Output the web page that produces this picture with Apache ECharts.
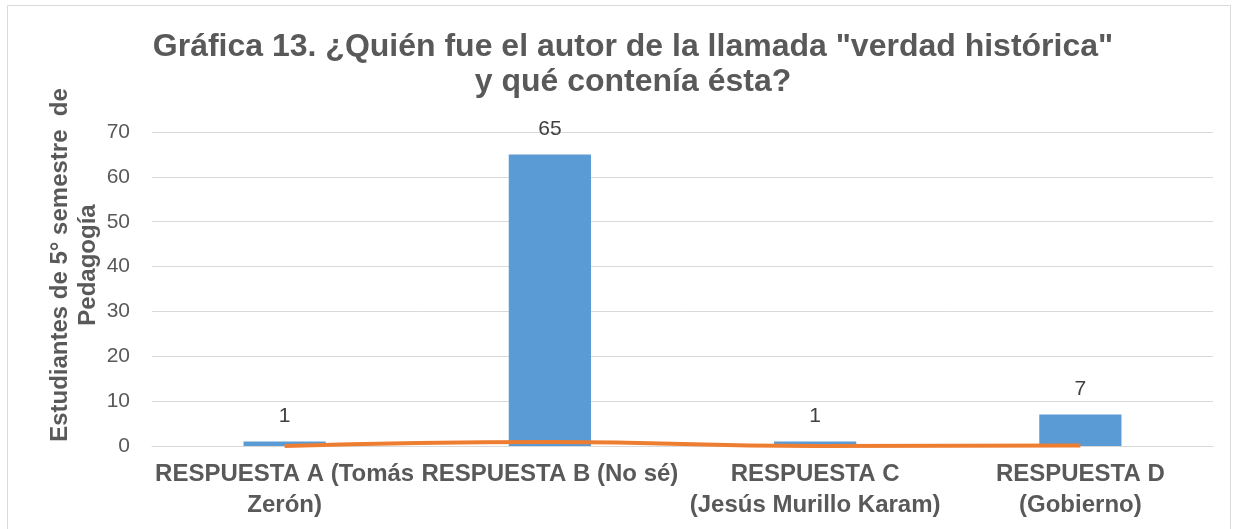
<!DOCTYPE html>
<html><head><meta charset="utf-8">
<script src="https://cdn.jsdelivr.net/npm/echarts@6/dist/echarts.min.js"></script>
<style>html,body{margin:0;padding:0;background:#fff}#c{width:1236px;height:529px}</style>
</head><body><div id="c"></div>
<script>
const categories = ["RESPUESTA A (Tomás\nZerón)", "RESPUESTA B (No sé)", "RESPUESTA C\n(Jesús Murillo Karam)", "RESPUESTA D\n(Gobierno)"];
const barValues = [1, 65, 1, 7];
const lineValues = [0.0135, 0.878, 0.0135, 0.0946];
const yTicks = [0, 10, 20, 30, 40, 50, 60, 70];
const titleText = 'Gráfica 13. ¿Quién fue el autor de la llamada "verdad histórica"\ny qué contenía ésta?';
const yName = 'Estudiantes de 5° semestre  de\nPedagogía';

const chart = echarts.init(document.getElementById('c'), null, {renderer: 'canvas'});
const font = '"Liberation Sans", Arial, sans-serif';
chart.setOption({
  animation: false,
  textStyle: {fontFamily: font},
  title: {
    text: titleText, left: 628, top: 25, textAlign: 'center',
    textStyle: {fontFamily: font, fontSize: 32, fontWeight: 'bold', color: '#595959', lineHeight: 35}
  },
  graphic: [
    {type: 'rect', shape: {x: 7.5, y: 5.5, width: 1223, height: 530}, style: {fill: 'none', stroke: '#d9d9d9', lineWidth: 1}, silent: true},
    {type: 'text', x: 74, y: 265, rotation: Math.PI / 2,
     style: {text: yName, font: 'bold 24px ' + font, fill: '#595959', align: 'center', verticalAlign: 'middle', lineHeight: 28}}
  ],
  grid: {left: 152, right: 23, top: 132, bottom: 83, containLabel: false},
  xAxis: {
    type: 'category', data: categories,
    axisLine: {show: true, lineStyle: {color: '#d9d9d9', width: 1}},
    axisTick: {show: false},
    axisLabel: {interval: 0, fontFamily: font, fontSize: 24, fontWeight: 'bold', color: '#595959', lineHeight: 31, margin: 13}
  },
  yAxis: {
    type: 'value', min: yTicks[0], max: yTicks[yTicks.length - 1], interval: 10,
    axisLine: {show: false}, axisTick: {show: false},
    splitLine: {lineStyle: {color: '#d9d9d9', width: 1}},
    axisLabel: {fontFamily: font, fontSize: 21, color: '#595959', margin: 22}
  },
  series: [
    {type: 'bar', data: barValues, barWidth: '31%', itemStyle: {color: '#5b9bd5'},
     label: {show: true, position: 'top', distance: 15, fontFamily: font, fontSize: 21, color: '#404040'}},
    {type: 'line', data: lineValues, smooth: true, symbol: 'none', lineStyle: {color: '#ed7d31', width: 4}, z: 3}
  ]
});
</script></body></html>
